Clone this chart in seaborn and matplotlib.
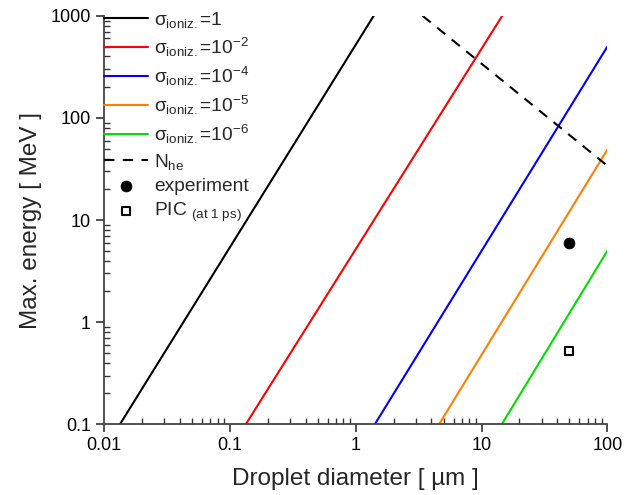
import matplotlib
matplotlib.use("Agg")
import matplotlib.pyplot as plt
import seaborn as sns
import pandas as pd
from matplotlib.ticker import LogLocator, NullFormatter, FixedLocator, FixedFormatter

sns.set_theme(style="ticks")
plt.rcParams['font.family'] = ['Liberation Sans', 'DejaVu Sans']
plt.rcParams['mathtext.fontset'] = 'custom'
plt.rcParams['mathtext.rm'] = 'Liberation Sans'
plt.rcParams['mathtext.it'] = 'Liberation Sans'
plt.rcParams['mathtext.sf'] = 'Liberation Sans'

# Line endpoints (diameter in um, energy in MeV)
series_names = ["1", "1e-2", "1e-4", "1e-5", "1e-6"]
series_labels = [r"$\sigma_{\mathrm{ioniz.}}$=1",
                 r"$\sigma_{\mathrm{ioniz.}}$=10$^{-2}$",
                 r"$\sigma_{\mathrm{ioniz.}}$=10$^{-4}$",
                 r"$\sigma_{\mathrm{ioniz.}}$=10$^{-5}$",
                 r"$\sigma_{\mathrm{ioniz.}}$=10$^{-6}$"]
series_colors = ["black", "#ff0000", "#0000ff", "#ff8000", "#00e000"]
x_start = [0.0134, 0.134, 1.42, 4.6, 14.5]
y_start = [0.1, 0.1, 0.1, 0.1, 0.1]
x_end = [1.39, 14.6, 100, 100, 100]
y_end = [1000, 1000, 500, 49, 5.0]

nhe_x = [3.4, 100]
nhe_y = [1000, 34]

exp_x = [50]
exp_y = [6.0]
pic_x = [50]
pic_y = [0.52]

fig = plt.figure(figsize=(6.38, 4.95), dpi=100)
ax = fig.add_axes([0.163, 0.143, 0.789, 0.825])

for name, lab, col, xs, ys, xe, ye in zip(series_names, series_labels, series_colors,
                                          x_start, y_start, x_end, y_end):
    df = pd.DataFrame({"x": [xs, xe], "y": [ys, ye]})
    sns.lineplot(data=df, x="x", y="y", ax=ax, color=col, lw=1.5, label=lab)

df_nhe = pd.DataFrame({"x": nhe_x, "y": nhe_y})
sns.lineplot(data=df_nhe, x="x", y="y", ax=ax, color="black", lw=1.5,
             linestyle=(0, (5, 4)), label=r"N$_{\mathrm{he}}$")

sns.scatterplot(x=exp_x, y=exp_y, ax=ax, color="black", s=60, marker="o",
                edgecolor="black", label="experiment", zorder=5)
sns.scatterplot(x=pic_x, y=pic_y, ax=ax, s=30, marker="s", facecolor="white",
                edgecolor="black", linewidth=1.5, label=r"PIC $_{\mathrm{(at\ 1\ ps)}}$", zorder=5)

ax.set_xscale("log")
ax.set_yscale("log")
ax.set_xlim(0.01, 100)
ax.set_ylim(0.1, 1000)

xt = [0.01, 0.1, 1, 10, 100]
yt = [0.1, 1, 10, 100, 1000]
ax.xaxis.set_major_locator(FixedLocator(xt))
ax.xaxis.set_major_formatter(FixedFormatter(["0.01", "0.1", "1", "10", "100"]))
ax.yaxis.set_major_locator(FixedLocator(yt))
ax.yaxis.set_major_formatter(FixedFormatter(["0.1", "1", "10", "100", "1000"]))
ax.xaxis.set_minor_locator(LogLocator(base=10, subs=range(2, 10), numticks=20))
ax.yaxis.set_minor_locator(LogLocator(base=10, subs=range(2, 10), numticks=20))
ax.xaxis.set_minor_formatter(NullFormatter())
ax.yaxis.set_minor_formatter(NullFormatter())

ax.tick_params(axis="both", which="major", direction="out", length=6, width=1.2,
               labelsize=13, colors="#333333", labelcolor="black")
ax.tick_params(axis="both", which="minor", direction="in", length=4, width=1.0,
               colors="#333333")

for s in ["top", "right"]:
    ax.spines[s].set_visible(False)
for s in ["left", "bottom"]:
    ax.spines[s].set_color("#444444")
    ax.spines[s].set_linewidth(1.3)

ax.set_xlabel("Droplet diameter [ µm ]", fontsize=17.5, labelpad=10)
ax.set_ylabel("Max. energy [ MeV ]", fontsize=17.5, labelpad=6)

leg = ax.legend(loc="upper left", frameon=False, fontsize=13.8, handlelength=2.3,
                handletextpad=0.3, labelspacing=0.31, borderaxespad=0.0,
                borderpad=0.0, bbox_to_anchor=(0.0, 1.015))

fig.savefig("out.png", dpi=100)
